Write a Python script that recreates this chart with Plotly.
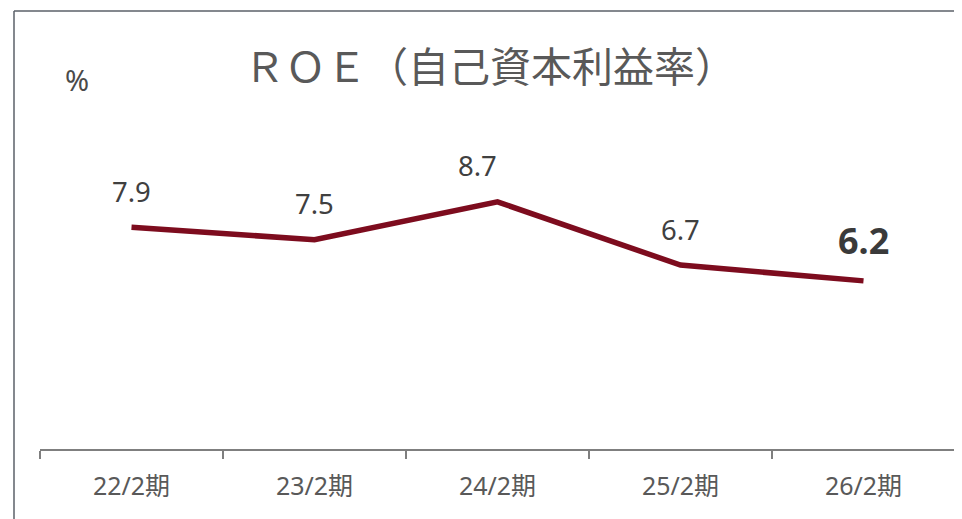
import plotly.graph_objects as go

categories = ["22/2期", "23/2期", "24/2期", "25/2期", "26/2期"]
roe = [7.9, 7.5, 8.7, 6.7, 6.2]
label_text = ["7.9", "7.5", "8.7", "6.7", "6.2"]

# the page adds an 8px body margin, so work in reference coords minus 8
OFF = 8
W, H = 962 - OFF, 519 - OFF
L = 40 - OFF
R = 7
T = 11 - OFF
B = H - (449 - OFF)
FONT = "Noto Sans, Noto Sans CJK JP, sans-serif"

pw = W - L - R
ph = H - T - B


def px(xr):
    return (xr - OFF - L) / pw


def py(yr):
    return (H - B - (yr - OFF)) / ph


fig = go.Figure()
fig.add_trace(go.Scatter(
    x=categories, y=roe, mode="lines",
    line=dict(color="#7D0C1E", width=5.5),
    hoverinfo="skip", showlegend=False,
))

# data labels
for i, (c, v, t) in enumerate(zip(categories, roe, label_text)):
    last = i == len(categories) - 1
    fig.add_annotation(
        x=c, y=v, text=f"<b>{t}</b>" if last else t,
        showarrow=False, yanchor="middle", xanchor="center",
        yshift=40 if last else 36,
        xshift=-20 if t == "8.7" else 0,
        font=dict(family=FONT, size=36 if last else 27.5,
                  color="#3A3A3A" if last else "#404040"),
    )

# title
fig.add_annotation(
    xref="paper", yref="paper",
    x=px(490), y=py(64),
    text="ＲＯＥ（自己資本利益率）", showarrow=False,
    xanchor="center", yanchor="middle",
    font=dict(family="Noto Sans CJK JP", size=41, color="#595959"),
)
# unit
fig.add_annotation(
    xref="paper", yref="paper",
    x=px(77), y=py(79),
    text="%", showarrow=False, xanchor="center", yanchor="middle",
    font=dict(family=FONT, size=29, color="#4A4A4A"),
)

# border lines (left and top)
fig.add_shape(type="line", xref="paper", yref="paper",
              x0=px(14), x1=px(14), y0=py(11), y1=py(530),
              line=dict(color="#5B6069", width=1.5))
fig.add_shape(type="line", xref="paper", yref="paper",
              x0=px(14), x1=px(970), y0=py(11), y1=py(11),
              line=dict(color="#5B6069", width=1.5))

fig.update_layout(
    width=W, height=H,
    margin=dict(l=L, r=R, t=T, b=B),
    paper_bgcolor="white", plot_bgcolor="white",
    xaxis=dict(
        type="category", range=[-0.5, 4.5],
        showline=True, linecolor="#7F7F7F", linewidth=1.5,
        ticks="outside", tickson="boundaries", ticklen=8,
        tickcolor="#7F7F7F", tickwidth=1.5,
        showgrid=False, zeroline=False,
        tickfont=dict(family=FONT, size=25, color="#595959"),
        ticklabelstandoff=14,
    ),
    yaxis=dict(
        range=[0.88, 14.74], visible=False,
        showgrid=False, zeroline=False,
    ),
)

fig.write_html("out.html")
